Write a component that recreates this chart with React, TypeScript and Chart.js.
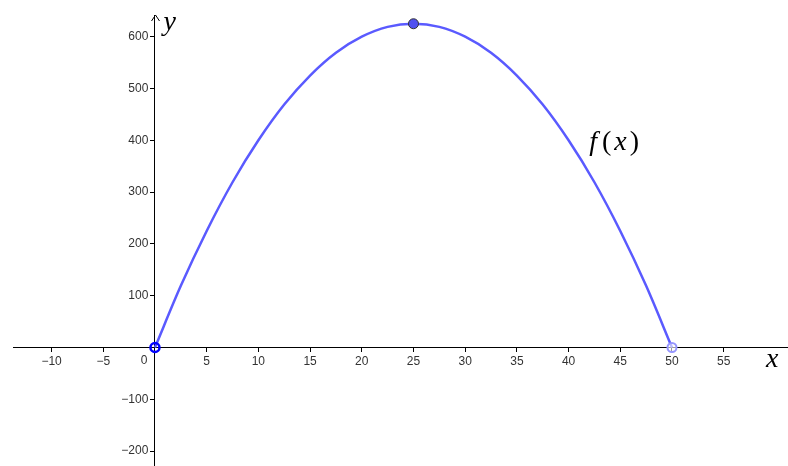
import React, { useEffect, useRef } from "react";
import { Chart, registerables } from "chart.js";
Chart.register(...registerables);

// Values
const curveX = [0, 2.5, 5, 7.5, 10, 12.5, 15, 17.5, 20, 22.5, 25, 27.5, 30, 32.5, 35, 37.5, 40, 42.5, 45, 47.5, 50];
const curveY = [0, 119, 225, 319, 400, 469, 525, 569, 600, 619, 625, 619, 600, 569, 525, 469, 400, 319, 225, 119, 0];
const peakPoint = [{ x: 25, y: 625 }];
const startPoint = [{ x: 0, y: 0 }];
const endPoint = [{ x: 50, y: 0 }];
const xRange = [-13.73, 61.22];
const yRange = [-228.8, 641.9];
const xStep = 5;
const yStep = 100;
const xLastLabel = 55;
const functionLabel = "f(x)";

const fmt = (v: number) => (v === 0 ? "" : String(v).replace("-", "\u2212"));

const noPad = (scale: any) => {
  scale.paddingLeft = 0;
  scale.paddingRight = 0;
  scale.paddingTop = 0;
  scale.paddingBottom = 0;
};

const overlay = {
  id: "geoOverlay",
  afterDraw(chart: any) {
    const ctx = chart.ctx;
    const xs = chart.scales.x;
    const ys = chart.scales.y;
    const x0 = Math.round(xs.getPixelForValue(0)) + 0.5;
    const y0 = ys.getPixelForValue(0);
    const top = chart.chartArea.top;
    ctx.save();
    // arrow on y axis
    ctx.strokeStyle = "#000";
    ctx.lineWidth = 1;
    ctx.beginPath();
    ctx.moveTo(x0 - 4, top + 6);
    ctx.lineTo(x0, top);
    ctx.lineTo(x0 + 4, top + 6);
    ctx.stroke();
    // origin label
    ctx.fillStyle = "#333";
    ctx.font = "12px 'Liberation Sans', Arial, sans-serif";
    ctx.textAlign = "right";
    ctx.textBaseline = "top";
    ctx.fillText("0", x0 - 8, y0 + 7);
    // axis names
    ctx.fillStyle = "#000";
    ctx.font = "italic 28px 'Liberation Serif', 'DejaVu Serif', serif";
    ctx.textAlign = "left";
    ctx.textBaseline = "middle";
    ctx.fillText("y", x0 + 8, top + 8);
    ctx.fillText("x", chart.chartArea.right - 22, y0 + 12);
    // function label f(x)
    const fx = xs.getPixelForValue(42.0);
    const fy = ys.getPixelForValue(395);
    let cx = fx;
    const parts: [string, boolean][] = [["f", true], ["(", false], ["x", true], [")", false]];
    for (const [t, it] of parts) {
      ctx.font = (it ? "italic " : "") + "28px 'Liberation Serif', 'DejaVu Serif', serif";
      ctx.fillText(t, cx, fy);
      cx += ctx.measureText(t).width + (t === "f" ? 5 : 3);
    }
    ctx.restore();
  },
};

export default function App() {
  const ref = useRef<HTMLCanvasElement | null>(null);
  useEffect(() => {
    if (!ref.current) return;
    const curve = curveX.map((x, i) => ({ x, y: curveY[i] }));
    const tickFont = { family: "'Liberation Sans', Arial, sans-serif", size: 12 };
    const chart = new Chart(ref.current, {
      type: "scatter",
      data: {
        datasets: [
          {
            label: functionLabel,
            data: curve,
            showLine: true,
            borderColor: "rgb(90,90,255)",
            borderWidth: 2.5,
            pointRadius: 0,
            cubicInterpolationMode: "monotone",
            order: 4,
          },
          {
            label: "A",
            data: peakPoint,
            pointRadius: 5,
            backgroundColor: "rgb(80,80,240)",
            borderColor: "#333",
            borderWidth: 1,
            order: 1,
          },
          {
            label: "O",
            data: startPoint,
            pointRadius: 4.5,
            backgroundColor: "rgba(0,0,0,0)",
            borderColor: "rgb(0,0,255)",
            borderWidth: 2.5,
            order: 2,
          },
          {
            label: "B",
            data: endPoint,
            pointRadius: 4.5,
            backgroundColor: "rgba(255,255,255,0.6)",
            borderColor: "rgb(150,150,255)",
            borderWidth: 2,
            order: 3,
          },
        ],
      },
      options: {
        animation: false,
        responsive: false,
        layout: { autoPadding: false, padding: { left: 13, top: 15, right: 0, bottom: 0 } },
        plugins: { legend: { display: false }, tooltip: { enabled: false } },
        scales: {
          x: {
            type: "linear",
            min: xRange[0],
            max: xRange[1],
            position: { y: 0 },
            afterFit: noPad,
            border: { display: true, color: "#000", width: 1 },
            grid: {
              drawOnChartArea: false,
              drawTicks: true,
              tickLength: 4,
              color: (c: any) => (c.tick && c.tick.value > xLastLabel ? "rgba(0,0,0,0)" : "#000"),
            },
            ticks: {
              stepSize: xStep,
              includeBounds: false,
              maxRotation: 0,
              autoSkip: false,
              padding: 3,
              color: "#333",
              font: tickFont,
              callback: (v: any) => (Number(v) > xLastLabel ? "" : fmt(Number(v))),
            },
          },
          y: {
            type: "linear",
            min: yRange[0],
            max: yRange[1],
            position: { x: 0 },
            afterFit: noPad,
            border: { display: true, color: "#000", width: 1 },
            grid: { drawOnChartArea: false, drawTicks: true, tickLength: 4, color: "#000" },
            ticks: {
              stepSize: yStep,
              includeBounds: false,
              autoSkip: false,
              padding: 4,
              color: "#333",
              font: tickFont,
              callback: (v: any) => (Number(v) === 0 ? "" : fmt(Number(v)) + "  "),
            },
          },
        },
      },
      plugins: [overlay],
    } as any);
    return () => chart.destroy();
  }, []);
  return (
    <div style={{ position: "fixed", left: 0, top: 0, width: 788, height: 466, background: "#fff" }}>
      <canvas ref={ref} width={788} height={466} style={{ display: "block" }} />
    </div>
  );
}
